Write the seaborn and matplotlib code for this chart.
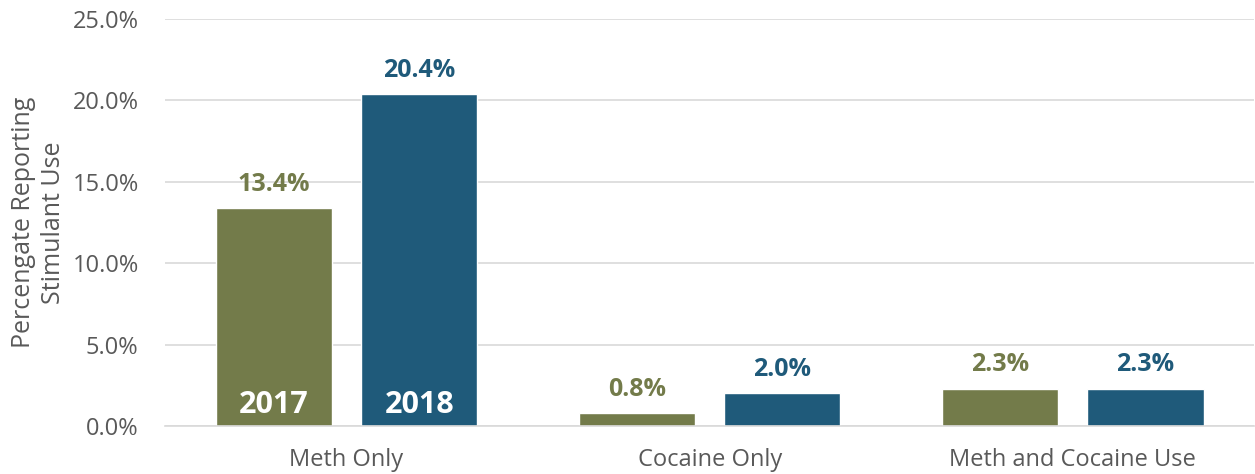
import matplotlib
matplotlib.use("Agg")
import matplotlib.pyplot as plt
import seaborn as sns
import pandas as pd
from matplotlib.ticker import FuncFormatter, FixedLocator

categories = ["Meth Only", "Cocaine Only", "Meth and Cocaine Use"]
years = ["2017", "2018"]
values_2017 = [13.4, 0.8, 2.3]
values_2018 = [20.4, 2.0, 2.3]
y_ticks = [0, 5, 10, 15, 20, 25]
y_label = "Percengate Reporting\nStimulant Use"

colors = {"2017": "#737B4A", "2018": "#1F5A7A"}

df = pd.DataFrame({
    "category": categories * 2,
    "year": [years[0]] * 3 + [years[1]] * 3,
    "value": values_2017 + values_2018,
})

sns.set_theme(style="white")
plt.rcParams["font.family"] = ["Open Sans", "DejaVu Sans"]

fig = plt.figure(figsize=(12.55, 4.74), dpi=100)
ax = fig.add_axes([165 / 1255, 48 / 474, 1 - 165 / 1255 - 0.0005, (426 - 19) / 474])

sns.barplot(data=df, x="category", y="value", hue="year", palette=colors,
            width=0.8, gap=0.2, saturation=1, ax=ax, legend=False)

ax.set_ylim(0, 25)
ax.set_xlim(-0.5, 2.5)
ax.yaxis.set_major_locator(FixedLocator(y_ticks))
ax.yaxis.set_major_formatter(FuncFormatter(lambda v, p: f"{v:.1f}%"))
ax.grid(axis="y", color="#D9D9D9", linewidth=1.2)
ax.set_axisbelow(True)
for s in ["left", "right", "top"]:
    ax.spines[s].set_visible(False)
ax.spines["bottom"].set_color("#D9D9D9")
ax.spines["bottom"].set_linewidth(1.2)

ax.tick_params(axis="y", length=0, labelsize=17, labelcolor="#595959", pad=19)
ax.tick_params(axis="x", which="major", length=0, labelsize=17, labelcolor="#595959", pad=16)
ax.set_xticks([-0.5, 0.5, 1.5, 2.5], minor=True)
ax.tick_params(axis="x", which="minor", length=7, width=1.2, color="#D9D9D9", direction="out")

ax.set_xlabel("")
ax.set_ylabel(y_label, fontsize=18, color="#595959", linespacing=1.3)
ax.yaxis.set_label_coords(-0.0905, 0.5)

for container, yr in zip(ax.containers, years):
    ax.bar_label(container, labels=[f"{v:.1f}%" for v in container.datavalues],
                 padding=8, color=colors[yr], fontsize=18, fontweight="bold")
    bar = container.patches[0]
    ax.text(bar.get_x() + bar.get_width() / 2, 1.3, yr, ha="center", va="center",
            color="white", fontsize=22, fontweight="bold")

fig.savefig("out.png", dpi=100)
